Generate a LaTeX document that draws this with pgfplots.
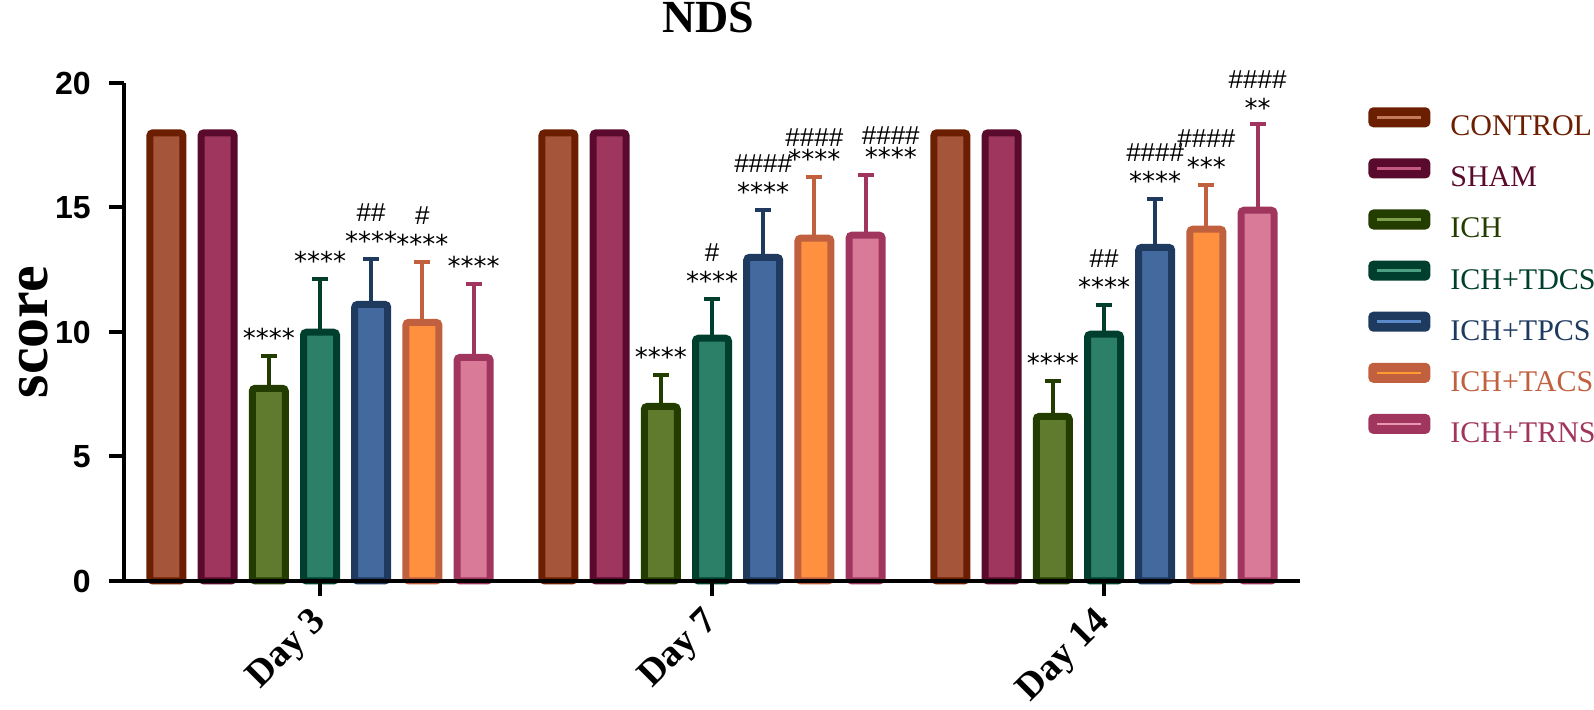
\documentclass[border=0pt]{standalone}
\usepackage{pgfplots}
\pgfplotsset{compat=1.18}
\usepackage{fontspec}
\setmainfont{Liberation Serif}
\newfontfamily\lsans{Liberation Sans}
\newfontfamily\djv{DejaVu Sans}

\definecolor{bC}{HTML}{6B1E00}\definecolor{fC}{HTML}{A5563A}\definecolor{lC}{HTML}{C27A5A}
\definecolor{bS}{HTML}{5A0A2C}\definecolor{fS}{HTML}{9E365E}\definecolor{lS}{HTML}{C45A82}
\definecolor{bI}{HTML}{233D00}\definecolor{fI}{HTML}{607A2E}\definecolor{lI}{HTML}{7FA04A}
\definecolor{bD}{HTML}{003F2D}\definecolor{fD}{HTML}{2C8068}\definecolor{lD}{HTML}{4AA080}
\definecolor{bP}{HTML}{1F3A5F}\definecolor{fP}{HTML}{44699E}\definecolor{lP}{HTML}{5A8ACA}
\definecolor{bA}{HTML}{C0603F}\definecolor{fA}{HTML}{FF9040}\definecolor{lA}{HTML}{FF9A30}
\definecolor{bR}{HTML}{A0355E}\definecolor{fR}{HTML}{D87A98}\definecolor{lR}{HTML}{E898B0}

\pgfplotsset{
  barsty/.style n args={3}{fill=#2, draw=#1, line width=3.5pt, rounded corners=1.5pt,
    legend image code/.code={%
      \draw[rounded corners=2pt,draw=#1,fill=#1,line width=1pt] (0pt,0.5pt) rectangle (30pt,9.5pt);
      \draw[draw=#3,line width=1.3pt] (4pt,5pt)--(26pt,5pt);},
    /pgfplots/error bars/y dir=plus, /pgfplots/error bars/y explicit,
    /pgfplots/error bars/error bar style={line width=2pt, draw=#1, rounded corners=0pt},
    /pgfplots/error bars/error mark options={rotate=90, line width=2pt, mark size=4pt, draw=#1}},
}
\tikzset{ann/.style={font=\fontsize{13}{14.5}\selectfont, align=center, anchor=south, inner sep=0pt, yshift=4pt}}
\newcommand{\sts}[1]{{\djv #1}}
\newcommand{\hs}[1]{{\lsans #1}}
\newcommand{\dep}[1]{\rule[-#1]{0pt}{#1}}

\begin{document}
\begin{tikzpicture}
\path[use as bounding box] (-62pt,-64.5pt) rectangle (735pt,290.5pt);
\begin{axis}[
  at={(0pt,0pt)}, anchor=south west,
  scale only axis, width=588pt, height=249pt,
  xmin=-0.5, xmax=2.5, ymin=0, ymax=20,
  clip=false, axis on top,
  axis lines*=left,
  axis line style={line width=2pt, black},
  tick align=outside,
  major tick length=7.5pt,
  every tick/.style={black, line width=2pt},
  xtick={0,1,2}, xticklabels={Day 3,Day 7,Day 14},
  ytick={0,5,10,15,20},
  /pgf/number format/assume math mode=true,
  yticklabel style={font=\fontsize{16}{16}\selectfont\lsans\bfseries, inner sep=0pt, xshift=-9pt},
  xticklabel style={font=\fontsize{19}{19}\selectfont\bfseries, xshift=-5.5pt, yshift=-4.2pt, rotate=45, anchor=north east, inner sep=0pt},
  title={NDS},
  title style={font=\fontsize{23}{23}\selectfont\bfseries, at={(0.497,1)}, anchor=base, yshift=19pt},
  ylabel={score},
  every axis y label/.style={at={(axis description cs:0,0.5)}, xshift=-45pt, rotate=90, anchor=center, font=\fontsize{30}{30}\selectfont\bfseries},
  ybar, bar width=16.5pt,
  legend cell align=left,
  legend style={at={(1.0578,0.952)}, anchor=north west, draw=none, fill=none, inner sep=0pt,
    row sep=9.8pt, column sep=10pt, font=\fontsize{15}{15}\selectfont,
    nodes={inner sep=0pt, text height=10pt}},
]
\addplot[barsty={bC}{fC}{lC}, bar shift=-76.8pt] coordinates {(0,18) (1,18) (2,18)};
\addlegendentry{\textcolor{bC}{CONTROL}\dep{5.2pt}}
\addplot[barsty={bS}{fS}{lS}, bar shift=-51.2pt] coordinates {(0,18) (1,18) (2,18)};
\addlegendentry{\textcolor{bS}{SHAM}\dep{7.2pt}}
\addplot[barsty={bI}{fI}{lI}, bar shift=-25.6pt] coordinates {(0,7.74) +- (0,1.30) (1,7.01) +- (0,1.27) (2,6.61) +- (0,1.43)};
\addlegendentry{\textcolor{bI}{ICH}\dep{10.7pt}}
\addplot[barsty={bD}{fD}{lD}, bar shift=0pt] coordinates {(0,9.99) +- (0,2.15) (1,9.75) +- (0,1.58) (2,9.91) +- (0,1.18)};
\addlegendentry{\textcolor{bD}{ICH+TDCS}\dep{11.2pt}}
\addplot[barsty={bP}{fP}{lP}, bar shift=25.6pt] coordinates {(0,11.11) +- (0,1.83) (1,13.0) +- (0,1.91) (2,13.40) +- (0,1.95)};
\addlegendentry{\textcolor{bP}{ICH+TPCS}\dep{10.7pt}}
\addplot[barsty={bA}{fA}{lA}, bar shift=51.2pt] coordinates {(0,10.39) +- (0,2.43) (1,13.77) +- (0,2.47) (2,14.13) +- (0,1.79)};
\addlegendentry{\textcolor{bA}{ICH+TACS}\dep{13.7pt}}
\addplot[barsty={bR}{fR}{lR}, bar shift=76.8pt] coordinates {(0,8.98) +- (0,2.96) (1,13.89) +- (0,2.43) (2,14.89) +- (0,3.48)};
\addlegendentry{\textcolor{bR}{ICH+TRNS}}

% Day 3
\node[ann] at (axis cs:-0.1306,9.04) {\sts{****}};
\node[ann] at (axis cs:0,12.14) {\sts{****}};
\node[ann] at (axis cs:0.1306,12.94) {\hs{\#\#}\\\sts{****}};
\node[ann] at (axis cs:0.2612,12.82) {\hs{\#}\\\sts{****}};
\node[ann] at (axis cs:0.3918,11.94) {\sts{****}};
% Day 7
\node[ann] at (axis cs:0.8694,8.28) {\sts{****}};
\node[ann] at (axis cs:1,11.33) {\hs{\#}\\\sts{****}};
\node[ann] at (axis cs:1.1306,14.91) {\hs{\#\#\#\#}\\\sts{****}};
\node[ann, font=\fontsize{13}{11}\selectfont] at (axis cs:1.2612,16.24) {\hs{\#\#\#\#}\\\sts{****}};
\node[ann, font=\fontsize{13}{11}\selectfont] at (axis cs:1.456,16.32) {\hs{\#\#\#\#}\\\sts{****}};
% Day 14
\node[ann] at (axis cs:1.8694,8.04) {\sts{****}};
\node[ann] at (axis cs:2,11.09) {\hs{\#\#}\\\sts{****}};
\node[ann] at (axis cs:2.1306,15.35) {\hs{\#\#\#\#}\\\sts{****}};
\node[ann] at (axis cs:2.2612,15.92) {\hs{\#\#\#\#}\\\sts{***}};
\node[ann, yshift=-1pt] at (axis cs:2.3918,18.37) {\hs{\#\#\#\#}\\\sts{**}};
\end{axis}
\end{tikzpicture}
\end{document}
